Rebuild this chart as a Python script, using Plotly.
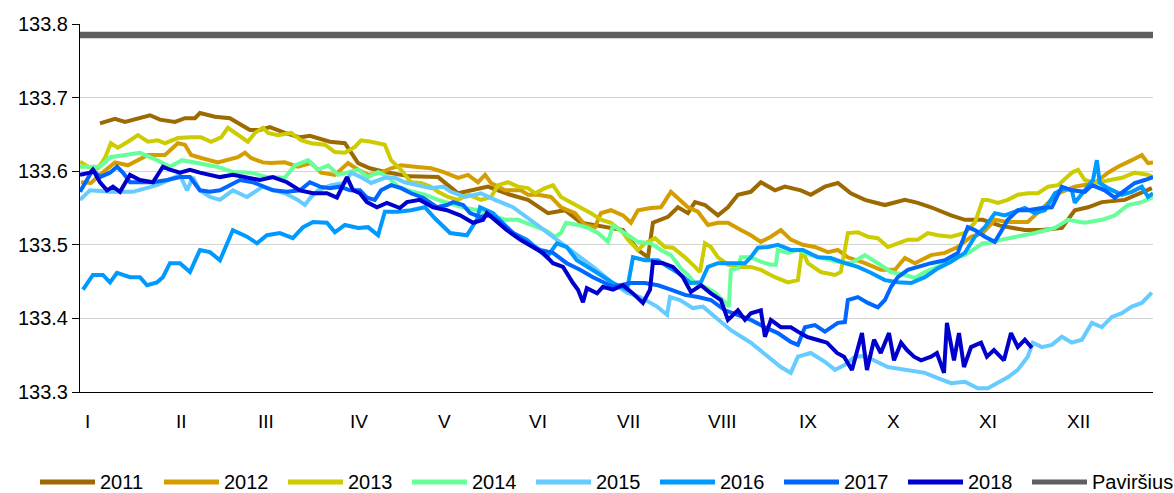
import plotly.graph_objects as go

# ---- data: day of year, water level (m) ----
d2011 = [6.8, 11.9, 15.3, 18.7, 23.8, 27.2, 32.3, 35.7, 39.1, 40.8, 45.9, 51.0, 54.4, 57.8, 61.2, 64.6, 69.7, 74.8, 78.2, 85.0, 90.1, 94.6, 98.6, 103.7, 112.2, 121.8, 128.6, 138.8, 146.3, 152.4, 159.2, 165.0, 170.4, 175.2, 180.6, 184.7, 189.8, 193.2, 194.9, 200.0, 203.4, 206.8, 209.2, 212.6, 217.0, 220.4, 223.8, 228.2, 231.6, 236.4, 239.8, 245.2, 248.6, 253.4, 257.8, 262.2, 267.0, 273.8, 280.6, 285.0, 289.5, 296.3, 301.0, 307.1, 312.9, 321.4, 327.2, 334.0, 338.4, 342.9, 347.6, 355.4, 364.6]
v2011 = [133.665, 133.671, 133.667, 133.671, 133.676, 133.670, 133.667, 133.672, 133.672, 133.679, 133.674, 133.672, 133.664, 133.656, 133.656, 133.660, 133.652, 133.646, 133.648, 133.640, 133.638, 133.611, 133.604, 133.599, 133.593, 133.592, 133.570, 133.579, 133.568, 133.561, 133.543, 133.547, 133.530, 133.527, 133.523, 133.520, 133.493, 133.483, 133.530, 133.538, 133.551, 133.543, 133.558, 133.554, 133.540, 133.551, 133.568, 133.572, 133.585, 133.574, 133.579, 133.574, 133.568, 133.579, 133.584, 133.570, 133.561, 133.554, 133.561, 133.557, 133.551, 133.540, 133.534, 133.534, 133.526, 133.520, 133.520, 133.523, 133.547, 133.551, 133.558, 133.561, 133.577]

d2012 = [0.3, 3.7, 6.8, 11.9, 16.3, 19.7, 23.1, 28.9, 33.3, 35.7, 37.8, 41.2, 46.9, 53.7, 56.1, 58.2, 62.2, 65.0, 69.7, 74.1, 78.6, 82.0, 86.7, 91.2, 94.6, 98.0, 102.4, 105.8, 109.2, 113.9, 119.4, 123.5, 128.6, 132.0, 135.4, 137.8, 139.8, 144.6, 150.0, 152.4, 155.8, 160.2, 163.6, 168.4, 171.8, 175.2, 177.2, 180.6, 184.7, 187.4, 189.8, 194.2, 197.6, 201.0, 203.4, 206.8, 210.2, 213.6, 217.0, 220.4, 224.8, 228.2, 231.6, 235.0, 238.4, 241.8, 245.9, 250.0, 254.4, 257.8, 261.2, 267.0, 272.4, 277.2, 280.6, 284.0, 289.5, 294.2, 298.6, 303.1, 307.1, 311.2, 315.6, 322.4, 329.3, 332.7, 338.4, 345.2, 349.7, 353.1, 357.8, 361.2, 363.3, 365.0]
v2012 = [133.585, 133.584, 133.595, 133.612, 133.608, 133.615, 133.622, 133.622, 133.638, 133.636, 133.622, 133.618, 133.612, 133.619, 133.625, 133.618, 133.612, 133.611, 133.612, 133.606, 133.611, 133.598, 133.595, 133.611, 133.602, 133.595, 133.598, 133.604, 133.608, 133.606, 133.604, 133.599, 133.591, 133.595, 133.585, 133.595, 133.584, 133.574, 133.574, 133.568, 133.568, 133.565, 133.551, 133.543, 133.527, 133.524, 133.543, 133.547, 133.540, 133.530, 133.547, 133.550, 133.551, 133.572, 133.564, 133.551, 133.545, 133.527, 133.530, 133.530, 133.520, 133.513, 133.504, 133.511, 133.520, 133.507, 133.500, 133.497, 133.490, 133.493, 133.483, 133.475, 133.466, 133.466, 133.482, 133.475, 133.486, 133.489, 133.497, 133.511, 133.516, 133.534, 133.531, 133.531, 133.557, 133.570, 133.579, 133.584, 133.598, 133.606, 133.615, 133.622, 133.611, 133.612]

d2013 = [0.0, 2.7, 6.1, 8.5, 10.5, 12.9, 16.3, 19.7, 23.1, 26.5, 28.9, 33.3, 37.8, 41.2, 44.6, 48.0, 50.3, 53.7, 57.1, 59.5, 62.2, 64.0, 67.3, 71.8, 75.2, 78.6, 83.3, 86.7, 90.1, 93.5, 95.6, 99.0, 103.7, 105.8, 109.2, 112.6, 116.0, 119.4, 121.8, 125.2, 128.6, 132.0, 136.4, 139.8, 142.2, 145.6, 149.0, 152.4, 154.8, 158.2, 160.9, 163.6, 167.0, 170.4, 173.8, 177.2, 180.6, 184.7, 186.4, 189.8, 192.2, 195.6, 199.0, 201.7, 205.8, 209.2, 210.9, 212.6, 214.6, 217.0, 220.4, 223.8, 228.2, 231.6, 236.4, 240.8, 244.2, 245.6, 247.6, 252.0, 256.8, 258.8, 261.2, 264.6, 268.0, 271.4, 274.8, 278.2, 281.6, 285.0, 288.4, 291.8, 296.3, 301.0, 304.4, 307.1, 308.8, 312.2, 315.6, 319.0, 322.4, 325.9, 329.3, 332.7, 337.4, 339.5, 341.8, 345.2, 349.7, 354.4, 358.8, 363.3, 365.0]
v2013 = [133.613, 133.606, 133.604, 133.618, 133.638, 133.632, 133.640, 133.649, 133.640, 133.642, 133.638, 133.645, 133.646, 133.646, 133.640, 133.646, 133.659, 133.649, 133.640, 133.652, 133.659, 133.652, 133.649, 133.652, 133.642, 133.638, 133.636, 133.626, 133.625, 133.633, 133.642, 133.640, 133.636, 133.615, 133.602, 133.585, 133.584, 133.579, 133.572, 133.565, 133.561, 133.568, 133.561, 133.565, 133.581, 133.585, 133.579, 133.577, 133.570, 133.577, 133.581, 133.565, 133.558, 133.551, 133.543, 133.534, 133.530, 133.517, 133.507, 133.493, 133.502, 133.509, 133.497, 133.496, 133.483, 133.470, 133.463, 133.502, 133.497, 133.483, 133.473, 133.470, 133.470, 133.466, 133.456, 133.449, 133.452, 133.493, 133.475, 133.463, 133.459, 133.463, 133.516, 133.517, 133.511, 133.509, 133.497, 133.502, 133.507, 133.507, 133.516, 133.513, 133.511, 133.516, 133.530, 133.561, 133.561, 133.557, 133.561, 133.568, 133.570, 133.570, 133.579, 133.581, 133.598, 133.602, 133.588, 133.584, 133.588, 133.591, 133.598, 133.595, 133.592]

d2014 = [0.0, 6.8, 10.2, 16.0, 20.4, 26.2, 30.6, 34.7, 40.8, 46.6, 52.0, 58.2, 63.6, 69.7, 73.1, 77.6, 81.0, 84.4, 87.8, 91.2, 94.6, 98.0, 101.4, 104.8, 108.2, 111.6, 117.3, 121.8, 125.2, 131.0, 135.4, 139.8, 144.6, 149.0, 153.4, 158.2, 161.6, 163.6, 165.3, 169.4, 172.8, 176.2, 179.6, 181.3, 186.4, 189.8, 194.2, 197.6, 201.0, 204.4, 206.8, 209.2, 212.6, 216.0, 219.4, 220.7, 221.4, 223.8, 224.8, 228.2, 231.6, 235.0, 236.7, 237.4, 240.8, 244.2, 248.6, 253.4, 257.8, 262.2, 267.0, 271.4, 275.9, 280.6, 284.0, 287.4, 291.8, 296.3, 301.0, 307.1, 308.8, 313.6, 319.0, 324.8, 331.6, 336.1, 341.8, 347.6, 352.0, 356.5, 361.2, 365.0]
v2014 = [133.606, 133.606, 133.619, 133.622, 133.625, 133.615, 133.606, 133.615, 133.611, 133.606, 133.599, 133.598, 133.592, 133.591, 133.608, 133.615, 133.602, 133.608, 133.595, 133.599, 133.602, 133.592, 133.599, 133.592, 133.579, 133.574, 133.568, 133.561, 133.557, 133.550, 133.547, 133.540, 133.534, 133.534, 133.527, 133.520, 133.511, 133.516, 133.530, 133.527, 133.523, 133.516, 133.504, 133.526, 133.513, 133.504, 133.502, 133.493, 133.486, 133.468, 133.459, 133.448, 133.443, 133.435, 133.422, 133.416, 133.466, 133.468, 133.483, 133.483, 133.477, 133.473, 133.473, 133.493, 133.489, 133.493, 133.486, 133.482, 133.477, 133.475, 133.486, 133.475, 133.463, 133.459, 133.455, 133.463, 133.470, 133.482, 133.486, 133.502, 133.502, 133.507, 133.511, 133.516, 133.523, 133.534, 133.530, 133.534, 133.540, 133.554, 133.558, 133.565]

d2015 = [0.0, 1.7, 3.4, 10.2, 18.0, 26.2, 34.0, 36.4, 38.4, 40.8, 44.2, 47.6, 52.0, 56.8, 58.8, 62.2, 66.3, 69.7, 74.1, 76.5, 78.6, 81.0, 85.4, 90.1, 92.2, 95.6, 99.0, 103.7, 107.1, 110.5, 115.0, 119.4, 123.5, 126.2, 131.0, 136.4, 141.2, 147.3, 156.5, 165.6, 174.5, 181.3, 186.1, 190.5, 196.3, 199.7, 200.7, 204.1, 208.5, 211.9, 216.0, 221.4, 228.2, 234.0, 238.4, 241.8, 244.2, 248.6, 253.4, 256.8, 260.2, 263.6, 267.0, 274.8, 281.6, 287.4, 291.8, 296.3, 301.0, 305.4, 308.8, 312.2, 315.6, 319.0, 322.4, 324.1, 327.2, 330.6, 334.0, 337.4, 340.8, 344.2, 347.6, 351.0, 354.4, 357.8, 361.2, 364.6]
v2015 = [133.561, 133.568, 133.574, 133.572, 133.572, 133.581, 133.595, 133.574, 133.592, 133.574, 133.565, 133.561, 133.574, 133.565, 133.570, 133.579, 133.574, 133.570, 133.561, 133.554, 133.565, 133.574, 133.581, 133.584, 133.598, 133.592, 133.584, 133.591, 133.591, 133.585, 133.581, 133.577, 133.579, 133.572, 133.565, 133.570, 133.561, 133.551, 133.524, 133.497, 133.470, 133.448, 133.435, 133.429, 133.416, 133.405, 133.429, 133.425, 133.414, 133.416, 133.402, 133.384, 133.367, 133.348, 133.334, 133.326, 133.348, 133.353, 133.341, 133.330, 133.337, 133.348, 133.349, 133.334, 133.330, 133.326, 133.319, 133.312, 133.314, 133.305, 133.305, 133.312, 133.320, 133.330, 133.348, 133.367, 133.361, 133.364, 133.375, 133.367, 133.371, 133.394, 133.388, 133.402, 133.407, 133.416, 133.421, 133.435]

d2016 = [1.0, 4.4, 7.8, 10.2, 12.6, 17.0, 20.4, 22.8, 26.2, 28.2, 30.6, 34.0, 37.4, 40.8, 44.2, 47.6, 52.0, 56.8, 60.2, 63.6, 68.0, 72.4, 75.9, 79.3, 84.0, 86.7, 90.1, 94.6, 98.0, 101.4, 103.7, 108.2, 112.6, 117.3, 120.7, 125.9, 131.6, 135.0, 136.1, 140.5, 147.3, 152.0, 158.8, 162.2, 165.6, 169.0, 175.9, 181.3, 186.1, 188.1, 192.2, 196.6, 200.0, 203.4, 207.8, 211.2, 213.6, 217.0, 221.4, 226.2, 228.2, 230.6, 234.0, 237.4, 241.8, 245.9, 251.0, 255.4, 260.2, 264.6, 269.0, 273.8, 278.2, 282.7, 287.4, 291.8, 296.3, 301.0, 304.4, 307.8, 311.2, 314.6, 318.0, 321.4, 324.8, 328.2, 331.6, 335.0, 337.4, 338.4, 341.8, 344.6, 345.9, 346.9, 349.7, 354.4, 357.8, 361.2, 363.3, 365.0]
v2016 = [133.439, 133.459, 133.459, 133.449, 133.462, 133.456, 133.456, 133.445, 133.449, 133.456, 133.475, 133.475, 133.463, 133.493, 133.490, 133.479, 133.520, 133.511, 133.502, 133.513, 133.516, 133.509, 133.524, 133.531, 133.530, 133.517, 133.527, 133.523, 133.524, 133.513, 133.545, 133.545, 133.547, 133.551, 133.536, 133.516, 133.513, 133.534, 133.551, 133.543, 133.516, 133.507, 133.483, 133.502, 133.497, 133.479, 133.462, 133.448, 133.439, 133.483, 133.479, 133.479, 133.470, 133.462, 133.448, 133.449, 133.470, 133.475, 133.475, 133.475, 133.483, 133.496, 133.497, 133.500, 133.493, 133.493, 133.483, 133.482, 133.475, 133.470, 133.462, 133.452, 133.449, 133.448, 133.456, 133.468, 133.477, 133.489, 133.511, 133.524, 133.543, 133.540, 133.545, 133.550, 133.543, 133.547, 133.570, 133.577, 133.574, 133.557, 133.574, 133.588, 133.615, 133.584, 133.577, 133.568, 133.572, 133.579, 133.565, 133.570]

d2017 = [0.0, 2.4, 4.4, 6.8, 10.2, 12.6, 14.6, 17.0, 20.4, 24.8, 29.6, 34.0, 37.4, 40.8, 44.2, 47.6, 50.0, 54.4, 58.8, 62.2, 65.6, 70.4, 74.8, 78.2, 81.6, 85.0, 88.4, 91.8, 95.2, 97.6, 100.3, 102.4, 105.8, 109.2, 112.6, 116.7, 121.4, 124.8, 126.9, 130.3, 132.7, 136.1, 139.5, 142.9, 147.3, 152.0, 156.5, 160.9, 165.6, 170.1, 174.5, 181.3, 187.4, 192.2, 196.6, 201.0, 205.8, 210.2, 214.6, 219.4, 223.8, 228.2, 233.0, 237.4, 241.8, 244.2, 246.6, 250.0, 253.4, 257.8, 260.2, 261.2, 264.6, 268.0, 271.4, 273.8, 275.9, 278.2, 281.6, 285.0, 289.5, 294.2, 298.6, 302.0, 304.4, 307.8, 311.2, 313.6, 315.6, 319.0, 322.4, 327.2, 330.6, 334.0, 337.4, 341.8, 344.2, 348.6, 352.0, 355.4, 358.8, 362.2, 365.0]
v2017 = [133.572, 133.588, 133.602, 133.592, 133.598, 133.606, 133.598, 133.585, 133.585, 133.585, 133.588, 133.592, 133.592, 133.574, 133.572, 133.574, 133.579, 133.588, 133.585, 133.579, 133.574, 133.572, 133.574, 133.585, 133.579, 133.577, 133.579, 133.574, 133.574, 133.564, 133.561, 133.574, 133.581, 133.577, 133.570, 133.564, 133.551, 133.554, 133.558, 133.554, 133.543, 133.538, 133.540, 133.531, 133.516, 133.504, 133.493, 133.489, 133.475, 133.466, 133.456, 133.443, 133.448, 133.448, 133.445, 133.439, 133.432, 133.429, 133.425, 133.411, 133.405, 133.398, 133.388, 133.380, 133.368, 133.364, 133.388, 133.391, 133.382, 133.394, 133.395, 133.425, 133.429, 133.421, 133.415, 133.425, 133.443, 133.456, 133.466, 133.470, 133.475, 133.479, 133.489, 133.524, 133.520, 133.511, 133.504, 133.520, 133.534, 133.547, 133.547, 133.550, 133.551, 133.579, 133.574, 133.572, 133.581, 133.574, 133.564, 133.574, 133.584, 133.588, 133.592]

d2018 = [0.0, 3.4, 4.4, 6.8, 9.2, 11.2, 13.6, 17.0, 20.4, 24.8, 28.2, 30.6, 34.0, 37.4, 40.8, 44.2, 47.6, 52.0, 56.8, 61.2, 65.6, 70.4, 74.8, 79.3, 84.0, 87.4, 90.8, 92.9, 95.2, 97.6, 101.0, 104.4, 108.8, 111.2, 115.6, 120.1, 124.8, 129.3, 133.7, 137.1, 138.4, 141.8, 145.2, 149.7, 154.1, 157.5, 160.9, 164.3, 167.7, 169.4, 171.1, 172.4, 175.9, 177.9, 181.3, 184.7, 188.1, 191.5, 193.9, 194.9, 198.3, 201.7, 205.1, 207.8, 211.2, 214.6, 218.0, 220.4, 223.8, 226.2, 228.2, 231.6, 233.0, 235.0, 238.4, 241.8, 244.2, 247.3, 250.7, 254.1, 257.5, 259.9, 262.6, 264.3, 266.0, 267.7, 270.1, 272.4, 275.2, 276.9, 279.3, 281.3, 283.7, 286.1, 289.5, 291.5, 293.9, 294.9, 297.3, 299.0, 300.7, 303.1, 306.5, 308.5, 310.9, 314.3, 316.7, 319.0, 321.4, 323.8]
v2018 = [133.595, 133.598, 133.602, 133.585, 133.574, 133.579, 133.572, 133.595, 133.588, 133.585, 133.606, 133.602, 133.598, 133.602, 133.598, 133.595, 133.592, 133.595, 133.592, 133.588, 133.592, 133.585, 133.574, 133.570, 133.570, 133.564, 133.592, 133.574, 133.570, 133.558, 133.551, 133.557, 133.550, 133.558, 133.561, 133.551, 133.547, 133.540, 133.530, 133.534, 133.543, 133.531, 133.520, 133.507, 133.496, 133.489, 133.475, 133.470, 133.448, 133.439, 133.422, 133.441, 133.434, 133.443, 133.439, 133.445, 133.434, 133.421, 133.439, 133.477, 133.475, 133.470, 133.456, 133.436, 133.445, 133.434, 133.425, 133.398, 133.411, 133.398, 133.407, 133.411, 133.375, 133.398, 133.388, 133.388, 133.382, 133.375, 133.371, 133.367, 133.353, 133.348, 133.330, 133.353, 133.380, 133.330, 133.371, 133.353, 133.380, 133.343, 133.367, 133.357, 133.348, 133.343, 133.348, 133.353, 133.326, 133.394, 133.343, 133.380, 133.334, 133.361, 133.367, 133.348, 133.357, 133.343, 133.380, 133.361, 133.371, 133.360]

pav_days = [0, 365]
pav_level = [133.785, 133.785]

series_names = ["2011", "2012", "2013", "2014", "2015", "2016", "2017", "2018", "Paviršius"]
month_days = [1, 32, 60, 91, 121, 152, 182, 213, 244, 274, 305, 335]
month_labels = ["I", "II", "III", "IV", "V", "VI", "VII", "VIII", "IX", "X", "XI", "XII"]
y_ticks = [133.3, 133.4, 133.5, 133.6, 133.7, 133.8]

colors = ["#9c6a00", "#d49e00", "#cccc00", "#66ff99", "#66ccff", "#0099ff", "#0066ff", "#0000cc", "#5f5f5f"]
widths = [4, 4, 4, 4, 4, 4, 4, 4, 6.5]
xs = [d2011, d2012, d2013, d2014, d2015, d2016, d2017, d2018, pav_days]
ys = [v2011, v2012, v2013, v2014, v2015, v2016, v2017, v2018, pav_level]

FONT = "Liberation Sans, Arial, sans-serif"

fig = go.Figure()
for name, x, y, c, w in zip(series_names, xs, ys, colors, widths):
    fig.add_trace(go.Scatter(x=x, y=y, mode="lines", name=name,
                             line=dict(color=c, width=w), showlegend=False))

L, R, T, B = 80, 21, 24, 101
W, H = 1174, 493
pw, ph = W - L - R, H - T - B

# month labels (left-aligned at month start)
for d, lab in zip(month_days, month_labels):
    fig.add_annotation(x=d, y=(392 - 421) / ph, xref="x", yref="paper", text=lab,
                       showarrow=False, xanchor="left", yanchor="middle",
                       font=dict(family=FONT, size=19, color="#000000"))

# custom legend
leg_x0 = 40
leg_step = 124
leg_y = (392 - 482) / ph
for i, (name, c) in enumerate(zip(series_names, colors)):
    x0 = leg_x0 + i * leg_step
    fig.add_shape(type="line", xref="paper", yref="paper",
                  x0=(x0 - L) / pw, x1=(x0 + 55 - L) / pw, y0=leg_y, y1=leg_y,
                  line=dict(color=c, width=5))
    fig.add_annotation(x=(x0 + 58 - L) / pw, y=leg_y, xref="paper", yref="paper",
                       text=name, showarrow=False, xanchor="left", yanchor="middle",
                       font=dict(family=FONT, size=20, color="#000000"))

fig.update_layout(
    width=W, height=H,
    margin=dict(l=L, r=R, t=T, b=B, autoexpand=False),
    plot_bgcolor="white", paper_bgcolor="white",
    showlegend=False,
    font=dict(family=FONT, color="#000000"),
)
fig.update_xaxes(range=[0, 365], showgrid=False, zeroline=False, showticklabels=False,
                 showline=True, linecolor="#000000", linewidth=1, ticks="", automargin=False)
fig.update_yaxes(range=[133.3, 133.8], tickvals=y_ticks, ticktext=[f"{v:.1f}" for v in y_ticks],
                 showgrid=True, gridcolor="#d4d4d4", gridwidth=1, zeroline=False,
                 showline=True, linecolor="#000000", linewidth=1,
                 ticks="outside", ticklen=7, tickcolor="#000000", automargin=False,
                 tickfont=dict(family=FONT, size=20, color="#000000"))

fig.write_html("out.html", config={"displayModeBar": False},
               post_script="document.body.style.margin='0';document.body.style.overflow='hidden';")
